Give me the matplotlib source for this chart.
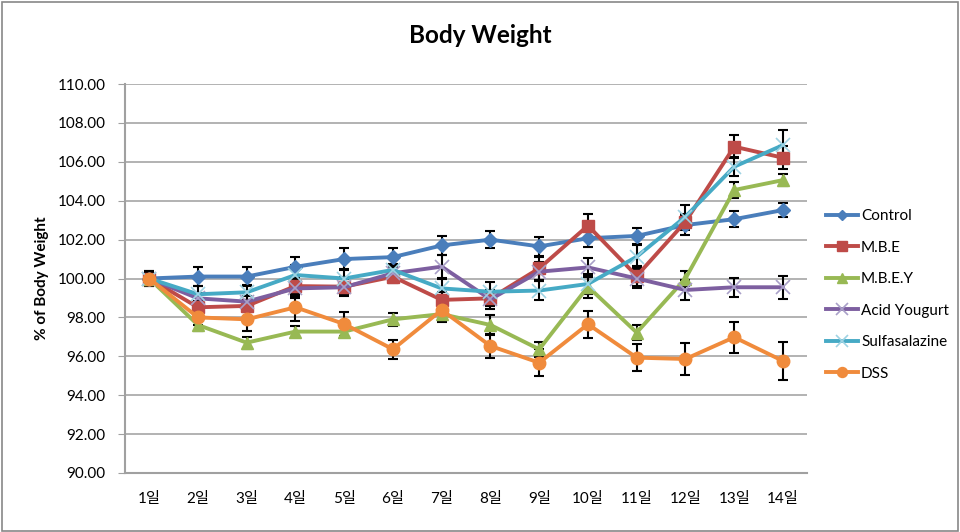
import matplotlib
matplotlib.use("Agg")
import matplotlib.pyplot as plt
from matplotlib.patches import Rectangle

days = ["1일", "2일", "3일", "4일", "5일", "6일", "7일", "8일", "9일", "10일", "11일", "12일", "13일", "14일"]

control = [100.0, 100.1, 100.1, 100.6, 101.0, 101.1, 101.7, 102.0, 101.65, 102.07, 102.19, 102.75, 103.05, 103.52]
mbe = [100.0, 98.52, 98.59, 99.61, 99.58, 100.09, 98.9, 98.98, 100.52, 102.72, 100.13, 102.92, 106.78, 106.21]
mbey = [100.0, 97.61, 96.70, 97.27, 97.27, 97.90, 98.17, 97.61, 96.36, 99.58, 97.22, 100.0, 104.55, 105.06]
acid = [100.0, 98.98, 98.81, 99.49, 99.55, 100.27, 100.61, 98.93, 100.35, 100.57, 100.0, 99.41, 99.55, 99.55]
sulfa = [100.0, 99.19, 99.29, 100.18, 100.0, 100.44, 99.49, 99.32, 99.38, 99.72, 101.12, 103.18, 105.75, 106.86]
dss = [100.0, 98.0, 97.9, 98.52, 97.66, 96.36, 98.38, 96.53, 95.67, 97.65, 95.93, 95.86, 96.98, 95.76]

control_err = [0.4, 0.5, 0.5, 0.5, 0.55, 0.45, 0.5, 0.45, 0.5, 0.45, 0.4, 0.5, 0.4, 0.35]
mbe_err = [0.4, 0.3, 0.3, 0.5, 0.5, 0.3, 0.4, 0.4, 0.6, 0.6, 0.5, 0.4, 0.6, 0.6]
mbey_err = [0.3, 0.3, 0.3, 0.3, 0.3, 0.35, 0.35, 0.5, 0.4, 0.6, 0.4, 0.4, 0.4, 0.3]
acid_err = [0.3, 0.3, 0.3, 0.5, 0.4, 0.3, 0.6, 0.5, 0.5, 0.5, 0.5, 0.5, 0.5, 0.6]
sulfa_err = [0.3, 0.4, 0.4, 0.5, 0.5, 0.3, 0.5, 0.5, 0.5, 0.5, 0.6, 0.6, 0.5, 0.8]
dss_err = [0.3, 0.4, 0.6, 0.7, 0.6, 0.5, 0.6, 0.6, 0.7, 0.7, 0.7, 0.8, 0.8, 1.0]

names = ["Control", "M.B.E", "M.B.E.Y", "Acid Yougurt", "Sulfasalazine", "DSS"]
colors = ["#4A7EBB", "#BE4B48", "#98B954", "#7D5FA0", "#46AAC5", "#F08B3C"]
markers = ["D", "s", "^", "x", "x", "o"]
msizes = [7, 9, 9, 10, 10, 9]

series = [control, mbe, mbey, acid, sulfa, dss]
errs = [control_err, mbe_err, mbey_err, acid_err, sulfa_err, dss_err]

fam = ["Lato", "Noto Sans CJK KR", "DejaVu Sans"]
plt.rcParams["font.family"] = fam

fig = plt.figure(figsize=(9.6, 5.32), dpi=100)
fig.patches.append(Rectangle((0.002, 0.002), 0.996, 0.994, transform=fig.transFigure,
                             fill=False, edgecolor="#888888", linewidth=1.2))
ax = fig.add_axes([0.130, 0.111, 0.711, 0.731])

x = list(range(len(days)))
handles = []
for vals, er, name, c, m, ms in zip(series, errs, names, colors, markers, msizes):
    ax.errorbar(x, vals, yerr=er, fmt="none", ecolor="black", elinewidth=1.5,
                capsize=3.5, capthick=1.5, zorder=2)
    mkw = {}
    if m == "x":
        mkw = dict(markeredgewidth=1.2, markeredgecolor="#A9A0C8" if name == "Acid Yougurt" else "#9FD3E3")
    h, = ax.plot(x, vals, color=c, linewidth=2.8, marker=m, markersize=ms, label=name, zorder=3, **mkw)
    handles.append(h)

ax.set_xlim(-0.5, len(days) - 0.5)
ax.set_ylim(90, 110)
ax.set_yticks([90 + 2 * i for i in range(11)])
ax.set_yticklabels([f"{90 + 2 * i:.2f}" for i in range(11)], fontsize=11)
ax.set_xticks(x)
ax.set_xticklabels(days, fontsize=11)
ax.tick_params(axis="x", length=0, pad=14)
ax.tick_params(axis="y", length=5, color="#A0A0A0", pad=9, direction="out")
ax.yaxis.grid(True, color="#A6A6A6", linewidth=1.2)
ax.set_axisbelow(True)
for s in ["top", "right"]:
    ax.spines[s].set_visible(False)
for s in ["left", "bottom"]:
    ax.spines[s].set_color("#A0A0A0")
    ax.spines[s].set_linewidth(1.5)

ax.set_ylabel("% of Body Weight", fontsize=11, fontweight="bold", labelpad=6)
fig.text(0.5, 0.934, "Body Weight", ha="center", va="center", fontsize=17.5, fontweight="bold")

fig.legend(handles=handles, labels=names, loc="upper left", bbox_to_anchor=(0.846, 0.633),
           frameon=False, fontsize=11, handlelength=2.1, labelspacing=1.15, handletextpad=0.2,
           markerscale=0.8)

fig.savefig("out.png", dpi=100)
